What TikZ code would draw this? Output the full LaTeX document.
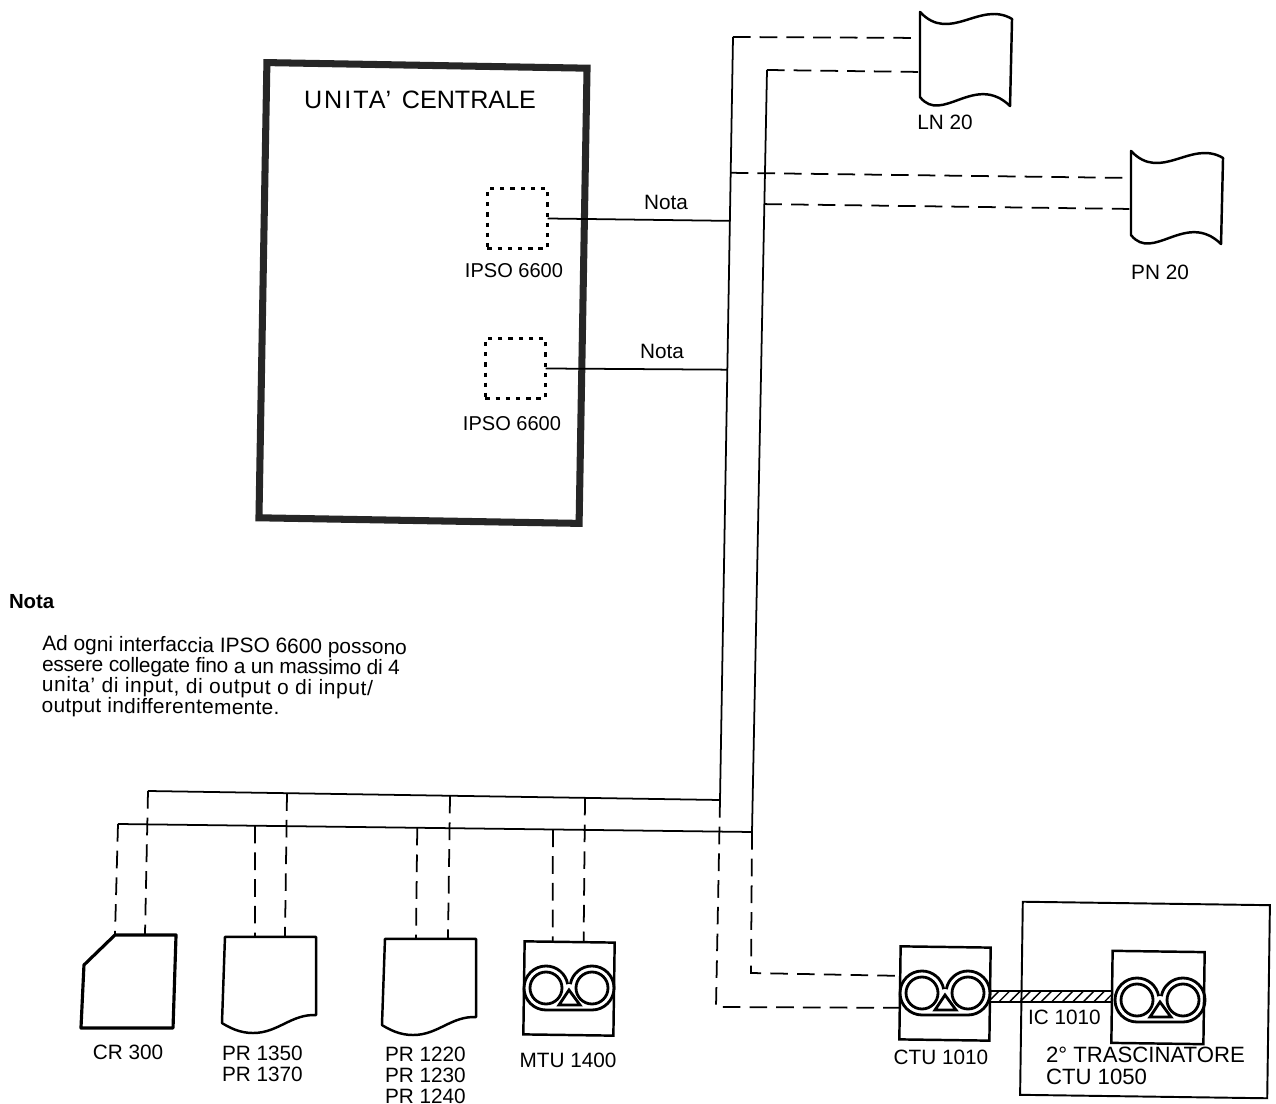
\documentclass[tikz,border=0pt]{standalone}
\usepackage{fontspec}
\setmainfont{Liberation Sans}
\usepackage{tikz}
\usetikzlibrary{calc, patterns}

% continuous form with a wavy top and bottom edge
\newcommand{\contform}[1]{
    \draw[formline] (#1.north west)
        .. controls ($(#1.north west)+(30,32)$) and ($(#1.north west)+(60,-12)$) .. ($(#1.north east)+(0,7)$)
        -- ($(#1.south east)+(-2,9)$)
        .. controls ($(#1.south west)+(55,-25)$) and ($(#1.south west)+(22,28)$) .. (#1.south west) -- cycle;
}
% cut sheet with a wavy bottom edge
\newcommand{\cutform}[1]{
    \draw[formline] (#1.north west) -- (#1.north east) -- (#1.south east)
        .. controls ($(#1.south east)+(-25,-1)$) and ($(#1.south east)+(-38,18)$) .. ($(#1.south east)+(-63,18)$)
        .. controls ($(#1.south east)+(-76,18)$) and ($(#1.south east)+(-86,13)$) .. ($(#1.south west)+(-3,8)$)
        -- cycle;
}

\begin{document}
\begin{tikzpicture}[
    x=0.01cm, y=-0.01cm,
    every node/.style={font=\fontsize{5.9}{6}\selectfont, inner sep=0pt, outer sep=0pt},
    bigbox/.style={rectangle, draw=black!85, line width=2pt, rotate=-1, minimum width=3.2cm, minimum height=4.55cm},
    ipsobox/.style={rectangle, draw=black, line width=0.9pt, dash pattern=on 1.2pt off 1.7pt, minimum width=0.6cm, minimum height=0.6cm},
    tapebox/.style={rectangle, draw=black, line width=0.7pt, rotate=-0.8, minimum width=0.9cm, minimum height=0.93cm},
    framebox/.style={rectangle, draw=black, line width=0.55pt, rotate=-0.8, minimum width=2.47cm, minimum height=1.93cm},
    shapebox/.style={rectangle, minimum width=0.91cm, minimum height=0.78cm},
    formline/.style={line width=0.7pt, draw=black, line join=round},
    solidlink/.style={line width=0.5pt, draw=black},
    dashlink/.style={line width=0.5pt, draw=black, dash pattern=on 5pt off 2.6pt},
    icband/.style={rectangle, draw=black, line width=0.5pt, pattern=north east lines, minimum width=1.22cm, minimum height=0.11cm},
    lbl/.style={align=left, anchor=west},
    reels/.pic={
        \draw[line width=0.8pt] (-23,22) -- (23,22) arc[start angle=90, end angle=-170, radius=22];
        \draw[line width=0.8pt] (-23,22) arc[start angle=90, end angle=350, radius=22];
        \draw[line width=0.8pt] (-23,0) circle[radius=16];
        \draw[line width=0.8pt] (23,0) circle[radius=16];
        \draw[line width=0.8pt] (-10,17) -- (0,2) -- (11,17) -- cycle;
    }
]
\useasboundingbox (0,0) rectangle (1276,1104);

% === Central unit ===
\node[bigbox] (central) at (423,293) {};
\node[lbl, font=\fontsize{7.15}{8}\selectfont] (centrallbl) at (304,100)
    {{\addfontfeature{LetterSpace=8}UNITA'}\hspace{3pt}CENTRALE};

\node[ipsobox] (ipsoa) at (517.5,218.5) {};
\node[ipsobox] (ipsob) at (515.5,368.5) {};
\node[font=\fontsize{5.7}{6}\selectfont] (ipsoalbl) at (514,271) {IPSO 6600};
\node[font=\fontsize{5.7}{6}\selectfont] (ipsoblbl) at (512,424) {IPSO 6600};

% === Buses ===
\coordinate (topa) at (733,37);
\coordinate (topb) at (767,70);
\coordinate (joina) at (720,800);
\coordinate (joinb) at (752,832);
\coordinate (enda) at (148,791);
\coordinate (endb) at (118,824);

\draw[solidlink] (topa) -- (joina) -- (enda);
\draw[solidlink] (topb) -- (joinb) -- (endb);

\draw[solidlink] (ipsoa.east) -- ($(topa)!0.241!(joina)$);
\draw[solidlink] (ipsob.east) -- ($(topa)!0.436!(joina)$);
\node (notaa) at (666,202) {Nota};
\node (notab) at (662,351) {Nota};

% === Output forms ===
\node[shapebox, minimum width=0.92cm, minimum height=0.85cm] (lnform) at (966,54.5) {};
\node[shapebox, minimum width=0.92cm, minimum height=0.84cm] (pnform) at (1177,193) {};
\contform{lnform}
\contform{pnform}
\node (lnlbl) at (945,122) {LN 20};
\node (pnlbl) at (1160,272) {PN 20};

\draw[dashlink] (topa) -- ($(lnform.north west)+(0,26)$);
\draw[dashlink] (topb) -- ($(lnform.north west)+(0,60)$);
\draw[dashlink] ($(topa)!0.178!(joina)$) -- ($(pnform.north west)+(-1,27)$);
\draw[dashlink] ($(topb)!0.176!(joinb)$) -- ($(pnform.north west)+(-1,58)$);

% === Readers and printers ===
\node[rectangle, minimum width=0.92cm, minimum height=0.93cm] (crform) at (130,981.5) {};
\draw[formline, line width=0.9pt] ($(crform.north west)+(31,0)$) -- (crform.north east) -- ($(crform.south east)+(-3,0)$)
    -- ($(crform.south west)+(-3,0)$) -- ($(crform.north west)+(0,30)$) -- cycle;
\node[shapebox] (pra) at (270.5,976) {};
\node[shapebox] (prb) at (430.5,978) {};
\cutform{pra}
\cutform{prb}
\node[tapebox] (mtu) at (569,988.5) {};
\pic at (569,988) {reels};

\node (crlbl) at (128,1052) {CR 300};
\node[lbl] (pralbl) at (222,1064) {PR 1350\\PR 1370};
\node[lbl] (prblbl) at (385,1075.5) {PR 1220\\PR 1230\\PR 1240};
\node (mtulbl) at (568,1060) {MTU 1400};

\draw[dashlink] (enda) -- ($(crform.north west)+(61,0)$);
\draw[dashlink] (endb) -- ($(crform.north west)+(31,0)$);
\draw[dashlink] ($(enda)!0.243!(joina)$) -- ($(pra.north west)+(60,0)$);
\draw[dashlink] ($(endb)!0.216!(joinb)$) -- ($(pra.north west)+(30,0)$);
\draw[dashlink] ($(enda)!0.528!(joina)$) -- ($(prb.north west)+(63,0)$);
\draw[dashlink] ($(endb)!0.472!(joinb)$) -- ($(prb.north west)+(31,0)$);
\draw[dashlink] ($(enda)!0.764!(joina)$) -- ($(mtu.north west)+(59,0)$);
\draw[dashlink] ($(endb)!0.686!(joinb)$) -- ($(mtu.north west)+(28,0)$);

% === Tape units ===
\node[tapebox] (ctua) at (945,993.5) {};
\node[framebox] (ctuframe) at (1145,1000) {};
\node[tapebox, minimum width=0.92cm, minimum height=0.92cm] (ctub) at (1158,997.5) {};
\node[icband] (ic) at (1051,996.5) {};
\pic at (945,993) {reels};
\pic at (1160,1000) {reels};

\node (ctualbl) at (941,1057) {CTU 1010};
\node[lbl] (iclbl) at (1028,1017) {IC 1010};
\node[lbl, font=\fontsize{6.3}{6.2}\selectfont] (ctublbl) at (1046,1066) {2° TRASCINATORE\\CTU 1050};

\coordinate (cornera) at (716,1007);
\coordinate (cornerb) at (751,973);
\draw[dashlink] (joina) -- (cornera) -- ($(ctua.west)+(0,15)$);
\draw[dashlink] (joinb) -- (cornerb) -- ($(ctua.west)+(0,-17)$);

% === Note ===
\node[lbl, font=\bfseries\fontsize{5.8}{6}\selectfont] (notatitle) at (9,602) {Nota};
\node[lbl, rotate=-0.6, font=\fontsize{5.94}{5.85}\selectfont] (notatext) at (42,676)
    {Ad ogni interfaccia IPSO 6600 possono\\{\addfontfeature{LetterSpace=-1.4}essere collegate fino a un massimo di 4}\\{\addfontfeature{LetterSpace=3.2}unita' di input, di output o di input/}\\{\addfontfeature{LetterSpace=1.5}output indifferentemente.}};

\end{tikzpicture}
\end{document}
